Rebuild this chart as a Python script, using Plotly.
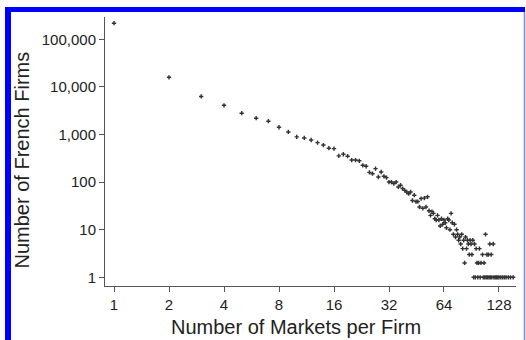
import plotly.graph_objects as go

# Number of markets per firm (x) and number of French firms (y)
markets = [1, 2, 3, 4, 5, 6, 7, 8, 9, 10, 11, 12, 13, 14, 15, 16, 17, 18, 19, 20,
           21, 22, 23, 24, 25, 26, 27, 28, 29, 30, 31, 32, 33, 34, 35, 36, 37, 38, 39, 40,
           41, 42, 43, 44, 45, 46, 47, 48, 49, 50, 51, 52, 53, 54, 55, 56, 57, 58, 59, 60,
           61, 62, 63, 64, 65, 66, 67, 68, 69, 70, 71, 72, 73, 74, 75, 76, 77, 78, 79, 80,
           81, 82, 83, 84, 85, 86, 87, 88, 89, 90, 91, 92, 93, 94, 95, 96, 97, 98, 99, 100,
           101, 102, 104, 105, 106, 107, 108, 109, 110, 111, 112, 113, 114, 115, 116, 117,
           119, 120, 122, 124, 126, 128, 131, 134, 137, 140, 144, 148, 153]
firms = [218000, 15900, 6300, 4100, 2800, 2200, 1900, 1420, 1130, 890, 845, 765, 675, 600, 515, 505, 355, 385, 350, 290,
         290, 280, 225, 215, 160, 150, 192, 128, 163, 132, 124, 100, 100, 93, 100, 79, 86, 73, 67, 62,
         57, 62, 41, 53, 39, 39, 30, 45, 28, 46, 30, 49, 25, 20, 24, 22, 17, 16, 20, 16,
         12, 17, 13, 16, 14, 11, 17, 16, 10, 22, 14, 8, 13, 7, 10, 8, 6, 7, 5, 8,
         4, 6, 2, 7, 4, 6, 5, 3, 6, 5, 3, 6, 1, 5, 1, 4, 2, 1, 2, 4,
         1, 2, 3, 1, 2, 1, 8, 1, 3, 1, 3, 1, 5, 1, 3, 1,
         5, 1, 1, 1, 1, 1, 1, 1, 1, 1, 1, 1, 1]

x_ticks = [1, 2, 4, 8, 16, 32, 64, 128]
x_ticktext = ["1", "2", "4", "8", "16", "32", "64", "128"]
y_ticks = [1, 10, 100, 1000, 10000, 100000]
y_ticktext = ["1", "10", "100", "1,000", "10,000", "100,000"]

W, H = 526, 340
L, R, T, B = 105, 10, 17, 54
pw, ph = W - L - R, H - T - B

def xp(px):
    return (px - L) / pw

def yp(py):
    return (H - B - py) / ph

fig = go.Figure()
fig.add_trace(go.Scatter(
    x=markets, y=firms, mode="markers",
    marker=dict(symbol="cross", size=3.6, color="#333333", line=dict(width=0)),
    cliponaxis=False, showlegend=False,
))

font_family = "Liberation Sans, Arial, Helvetica, sans-serif"
axis_common = dict(showline=True, linecolor="#555555", linewidth=1, ticks="outside",
                   ticklen=5, tickcolor="#555555", tickwidth=1, showgrid=False,
                   zeroline=False, tickfont=dict(size=15, color="#222222", family=font_family))

fig.update_xaxes(type="log", range=[-0.0493, 2.2003], tickvals=x_ticks, ticktext=x_ticktext,
                 **axis_common)
fig.update_yaxes(type="log", range=[-0.183, 5.468], tickvals=y_ticks, ticktext=y_ticktext,
                 **axis_common)

shapes = [
    dict(type="rect", xref="paper", yref="paper", x0=xp(5), x1=xp(11), y0=yp(340), y1=yp(7),
         fillcolor="#0000ff", line=dict(width=0), layer="above"),
    dict(type="rect", xref="paper", yref="paper", x0=xp(5), x1=xp(525), y0=yp(12), y1=yp(7),
         fillcolor="#0000ff", line=dict(width=0), layer="above"),
    dict(type="line", xref="paper", yref="paper", x0=xp(524.5), x1=xp(524.5), y0=yp(340), y1=yp(12),
         line=dict(color="#8080ff", width=1.5), layer="above"),
]

annotations = [
    dict(text="Number of Markets per Firm", xref="paper", yref="paper",
         x=xp(296), y=yp(314), xanchor="center", yanchor="top", showarrow=False,
         font=dict(size=20, color="#222222", family=font_family)),
    dict(text="Number of French Firms", xref="paper", yref="paper",
         x=xp(21.5), y=yp(160), xanchor="center", yanchor="middle", textangle=-90,
         showarrow=False, font=dict(size=20, color="#222222", family=font_family)),
]

fig.update_layout(
    width=W, height=H,
    margin=dict(l=L, r=R, t=T, b=B),
    paper_bgcolor="white", plot_bgcolor="white",
    shapes=shapes, annotations=annotations,
    font=dict(family=font_family),
)

fig.write_html("out.html", config={"displayModeBar": False},
               post_script="document.body.style.margin='0';document.body.style.padding='0';")
